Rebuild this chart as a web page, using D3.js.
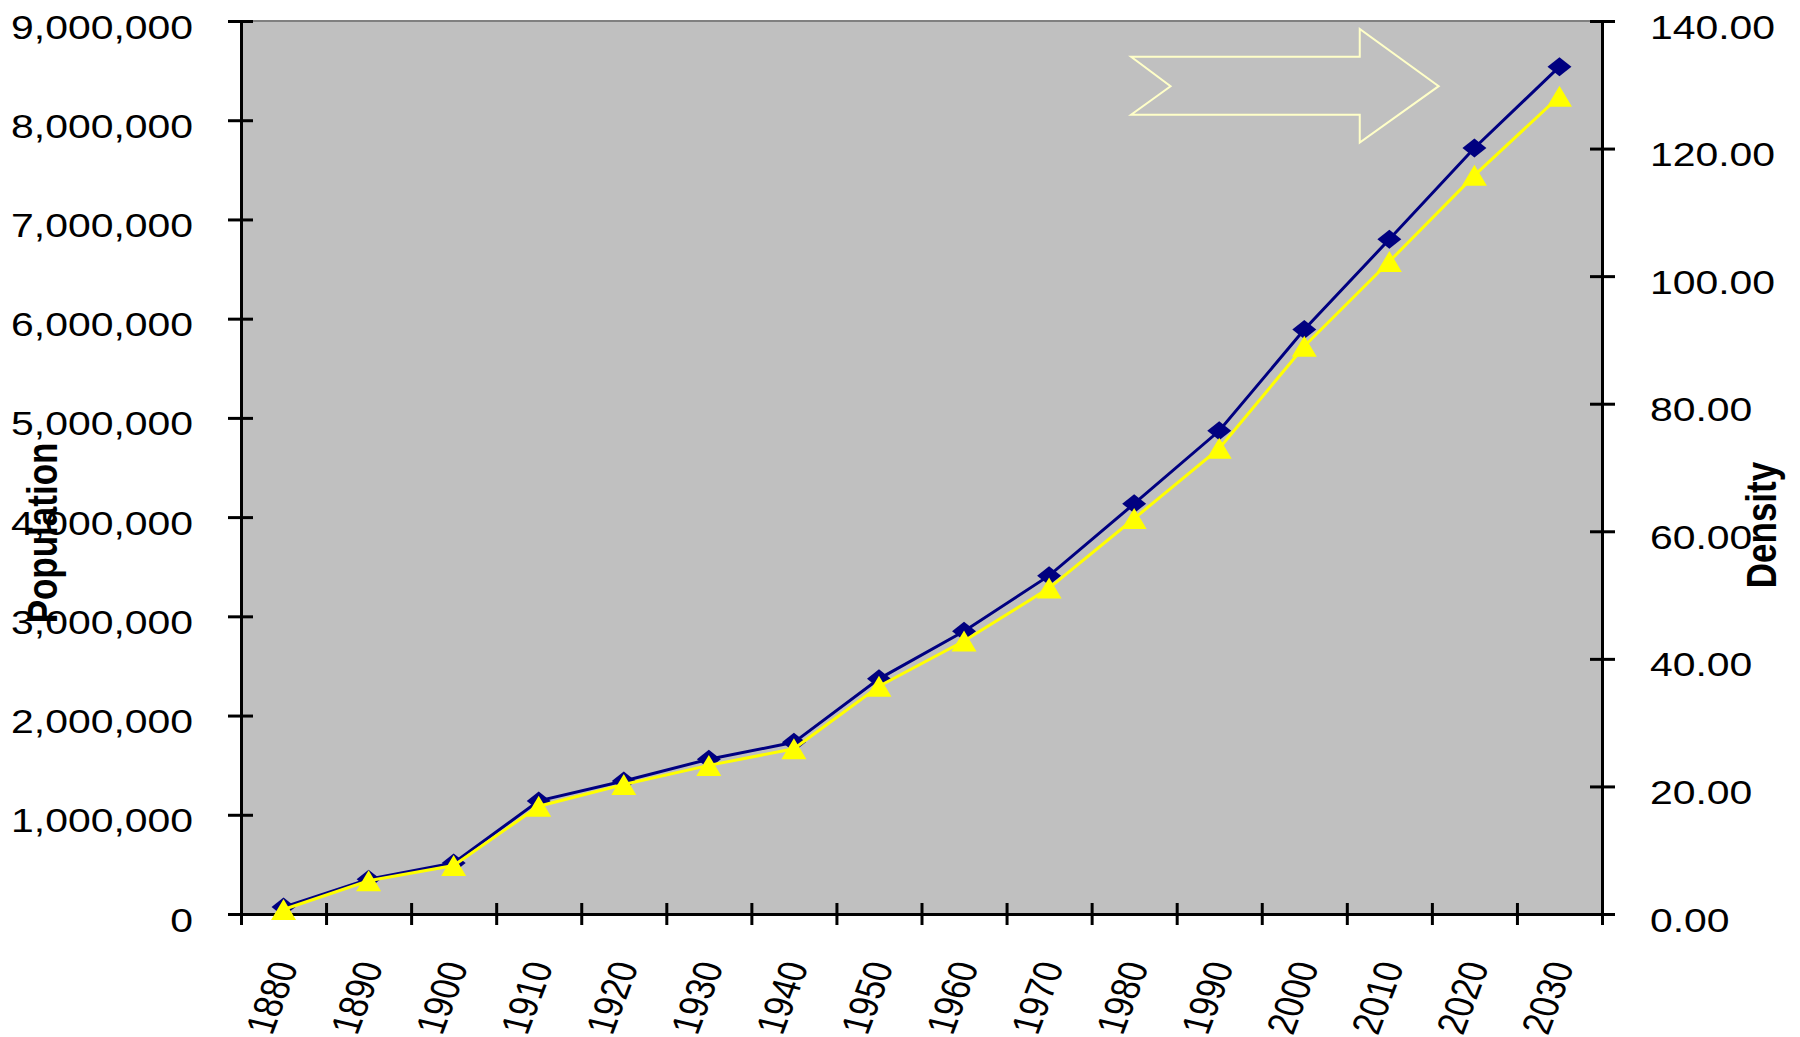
<!DOCTYPE html>
<html>
<head>
<meta charset="utf-8">
<script src="https://cdn.jsdelivr.net/npm/d3@7/dist/d3.min.js"></script>
<style>
  html, body { margin: 0; padding: 0; background: #ffffff; }
  svg { display: block; }
  text { font-family: "Liberation Sans", Arial, sans-serif; fill: #000; }
</style>
</head>
<body>
<svg id="chart" width="1800" height="1037"></svg>
<script>
// Decennial census years and projections
const years = ["1880", "1890", "1900", "1910", "1920", "1930", "1940", "1950",
               "1960", "1970", "1980", "1990", "2000", "2010", "2020", "2030"];
// Total population (left axis)
const population = [70000, 350000, 515000, 1140000, 1340000, 1560000, 1730000, 2370000,
                    2850000, 3410000, 4135000, 4870000, 5890000, 6800000, 7720000, 8540000];
// Population density (right axis)
const density = [0.7, 5.2, 7.6, 16.9, 20.3, 23.3, 25.9, 35.7,
                 42.8, 51.1, 62.0, 73.0, 89.0, 102.3, 115.8, 128.2];
// Axis ticks
const popTicks = [0, 1000000, 2000000, 3000000, 4000000, 5000000, 6000000, 7000000, 8000000, 9000000];
const densTicks = [0, 20, 40, 60, 80, 100, 120, 140];

const W = 1800, H = 1037;
const plot = { left: 241, right: 1602, top: 21, bottom: 914 };
const SX = 1.24;          // horizontal stretch applied to all text
const FONT = 33;

const svg = d3.select("#chart");

// Scales
const xBand = d3.scaleBand().domain(years).range([plot.left, plot.right]).paddingInner(0).paddingOuter(0);
const xEdge = d3.scaleLinear().domain([0, years.length]).range([plot.left, plot.right]);
const yPop = d3.scaleLinear().domain([0, 9000000]).range([plot.bottom, plot.top]);
const yDen = d3.scaleLinear().domain([0, 140]).range([plot.bottom, plot.top]);
const cx = d => xBand(d) + xBand.bandwidth() / 2;

// Plot area
svg.append("rect")
  .attr("x", plot.left).attr("y", plot.top)
  .attr("width", plot.right - plot.left).attr("height", plot.bottom - plot.top)
  .attr("fill", "#c0c0c0");
svg.append("line")
  .attr("x1", plot.left).attr("x2", plot.right)
  .attr("y1", plot.top).attr("y2", plot.top)
  .attr("stroke", "#808080").attr("stroke-width", 2);

// Decorative outline arrow in the upper right, placed in plot fractions
const pw = plot.right - plot.left, ph = plot.bottom - plot.top;
const arrowFr = [[0.654, 0.040], [0.822, 0.040], [0.822, 0.009], [0.880, 0.073],
                 [0.822, 0.136], [0.822, 0.105], [0.654, 0.105], [0.683, 0.073]];
svg.append("polygon")
  .attr("points", arrowFr.map(p => [plot.left + p[0] * pw, plot.top + p[1] * ph].join(",")).join(" "))
  .attr("fill", "none").attr("stroke", "#ffffc8").attr("stroke-width", 2);

// Axes
function styleAxis(g) {
  g.selectAll("path.domain").attr("stroke", "#000").attr("stroke-width", 3);
  g.selectAll(".tick line").attr("stroke", "#000").attr("stroke-width", 3);
}

// Left axis (population)
const gL = svg.append("g").attr("transform", `translate(${plot.left},0)`)
  .call(d3.axisLeft(yPop).tickValues(popTicks).tickSize(13).tickSizeOuter(0)
        .tickFormat(d3.format(",")));
styleAxis(gL);
gL.selectAll(".tick line").attr("x1", 12);
gL.selectAll(".tick text")
  .attr("font-size", FONT).attr("text-anchor", "end")
  .attr("x", -48 / SX).attr("dy", null).attr("y", 17)
  .attr("transform", `scale(${SX},1)`);

// Right axis (density)
const gR = svg.append("g").attr("transform", `translate(${plot.right},0)`)
  .call(d3.axisRight(yDen).tickValues(densTicks).tickSize(13).tickSizeOuter(0)
        .tickFormat(d3.format(".2f")));
styleAxis(gR);
gR.selectAll(".tick line").attr("x1", -12);
gR.selectAll(".tick text")
  .attr("font-size", FONT).attr("text-anchor", "start")
  .attr("x", 48 / SX).attr("dy", null).attr("y", 17)
  .attr("transform", `scale(${SX},1)`);

// Bottom axis: tick marks between categories
const gB = svg.append("g").attr("transform", `translate(0,${plot.bottom})`)
  .call(d3.axisBottom(xEdge).ticks(years.length).tickValues(d3.range(years.length + 1))
        .tickSize(11).tickSizeOuter(0).tickFormat(""));
styleAxis(gB);
gB.selectAll(".tick line").attr("y1", -11);

// Bottom axis: category labels, rotated
const gC = svg.append("g").attr("transform", `translate(0,${plot.bottom})`)
  .call(d3.axisBottom(xBand).tickSize(0).tickSizeOuter(0));
gC.select("path.domain").remove();
gC.selectAll(".tick text")
  .attr("font-size", FONT).attr("text-anchor", "end")
  .attr("x", 0).attr("y", 0).attr("dy", null)
  .attr("transform", `translate(15,52) scale(${SX},1) rotate(-73)`);

// Axis titles
svg.append("text")
  .attr("transform", `translate(57,533) scale(${SX},1) rotate(-90)`)
  .attr("text-anchor", "middle").attr("font-size", 35).attr("font-weight", "bold")
  .text("Population");
svg.append("text")
  .attr("transform", `translate(1776,525) scale(${SX},1) rotate(-90)`)
  .attr("text-anchor", "middle").attr("font-size", 35).attr("font-weight", "bold")
  .text("Density");

// Series
const popPts = years.map((y, i) => [cx(y), yPop(population[i])]);
const denPts = years.map((y, i) => [cx(y), yDen(density[i])]);
const line = d3.line();

svg.append("path").attr("d", line(popPts))
  .attr("fill", "none").attr("stroke", "#000080").attr("stroke-width", 3);
svg.append("g").selectAll("path").data(popPts).join("path")
  .attr("transform", d => `translate(${d[0]},${d[1]})`)
  .attr("d", "M0,-9.5L12,0L0,9.5L-12,0Z")
  .attr("fill", "#000080");

svg.append("path").attr("d", line(denPts))
  .attr("fill", "none").attr("stroke", "#ffff00").attr("stroke-width", 3);
svg.append("g").selectAll("path").data(denPts).join("path")
  .attr("transform", d => `translate(${d[0]},${d[1]})`)
  .attr("d", "M0,-10.5L12.5,10.5L-12.5,10.5Z")
  .attr("fill", "#ffff00");
</script>
</body>
</html>
